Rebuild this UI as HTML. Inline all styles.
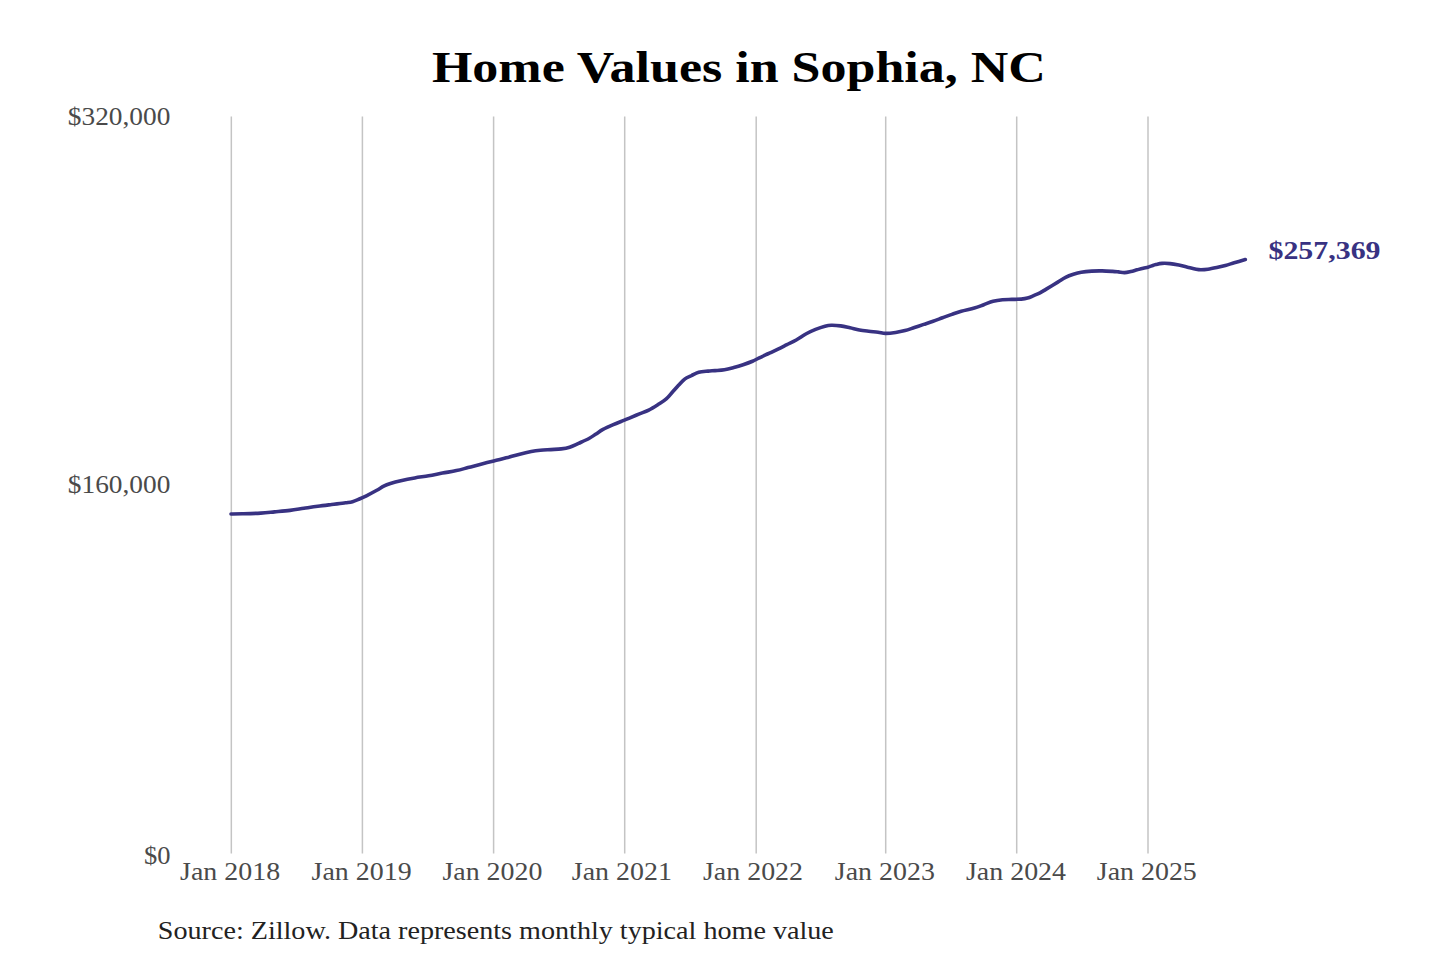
<!DOCTYPE html>
<html><head><meta charset="utf-8"><title>Home Values in Sophia, NC</title>
<style>
html,body{margin:0;padding:0;background:#fff;}
body{width:1440px;height:960px;overflow:hidden;}
svg{display:block;}
text{font-family:"Liberation Serif", serif;}
</style></head><body>
<svg width="1440" height="960" viewBox="0 0 1440 960">
<rect width="1440" height="960" fill="#fff"/>
<text x="738.9" y="81.7" text-anchor="middle" font-weight="bold" font-size="44" fill="#000" textLength="614" lengthAdjust="spacingAndGlyphs">Home Values in Sophia, NC</text>
<g stroke="#c4c4c4" stroke-width="1.5">
<line x1="231.33" y1="116.5" x2="231.33" y2="853.5" />
<line x1="362.40" y1="116.5" x2="362.40" y2="853.5" />
<line x1="493.60" y1="116.5" x2="493.60" y2="853.5" />
<line x1="624.70" y1="116.5" x2="624.70" y2="853.5" />
<line x1="756.20" y1="116.5" x2="756.20" y2="853.5" />
<line x1="885.70" y1="116.5" x2="885.70" y2="853.5" />
<line x1="1016.70" y1="116.5" x2="1016.70" y2="853.5" />
<line x1="1148.00" y1="116.5" x2="1148.00" y2="853.5" />
</g>
<g font-size="26" fill="#4a4a4a" text-anchor="end">
<text x="170.3" y="124.6" textLength="102.5" lengthAdjust="spacingAndGlyphs">$320,000</text>
<text x="170.3" y="492.7" textLength="102.5" lengthAdjust="spacingAndGlyphs">$160,000</text>
<text x="170.5" y="864" textLength="26.5" lengthAdjust="spacingAndGlyphs">$0</text>
</g>
<g font-size="26" fill="#4a4a4a" text-anchor="middle">
<text x="230.13" y="879.6" textLength="100" lengthAdjust="spacingAndGlyphs">Jan 2018</text>
<text x="361.60" y="879.6" textLength="100" lengthAdjust="spacingAndGlyphs">Jan 2019</text>
<text x="492.40" y="879.6" textLength="100" lengthAdjust="spacingAndGlyphs">Jan 2020</text>
<text x="621.85" y="879.6" textLength="100" lengthAdjust="spacingAndGlyphs">Jan 2021</text>
<text x="753.00" y="879.6" textLength="100" lengthAdjust="spacingAndGlyphs">Jan 2022</text>
<text x="884.85" y="879.6" textLength="100" lengthAdjust="spacingAndGlyphs">Jan 2023</text>
<text x="1016.00" y="879.6" textLength="100" lengthAdjust="spacingAndGlyphs">Jan 2024</text>
<text x="1146.80" y="879.6" textLength="100" lengthAdjust="spacingAndGlyphs">Jan 2025</text>
</g>
<path d="M231.00,514.00 C232.88,513.97 237.35,513.95 242.30,513.80 C247.25,513.65 255.33,513.42 260.70,513.10 C266.07,512.78 269.62,512.35 274.50,511.90 C279.38,511.45 285.10,511.00 290.00,510.40 C294.90,509.80 299.27,508.99 303.90,508.30 C308.53,507.61 313.17,506.88 317.80,506.25 C322.43,505.62 327.07,505.07 331.70,504.50 C336.33,503.93 342.13,503.27 345.60,502.80 C349.07,502.33 350.20,502.33 352.50,501.70 C354.80,501.07 357.08,499.98 359.40,499.00 C361.72,498.02 363.50,497.25 366.40,495.80 C369.30,494.35 373.91,491.92 376.80,490.30 C379.69,488.68 381.48,487.23 383.75,486.10 C386.02,484.97 387.56,484.40 390.40,483.50 C393.24,482.60 396.75,481.63 400.80,480.70 C404.85,479.77 410.07,478.72 414.70,477.90 C419.33,477.08 423.97,476.60 428.60,475.80 C433.23,475.00 437.87,473.97 442.50,473.10 C447.13,472.23 452.15,471.52 456.40,470.60 C460.65,469.68 464.07,468.62 468.00,467.60 C471.93,466.58 475.71,465.62 480.00,464.50 C484.29,463.38 489.38,462.02 493.75,460.90 C498.12,459.78 502.08,458.88 506.25,457.80 C510.42,456.72 514.58,455.43 518.75,454.40 C522.92,453.37 527.64,452.28 531.25,451.60 C534.86,450.92 537.14,450.63 540.40,450.30 C543.66,449.97 547.32,449.83 550.80,449.60 C554.27,449.37 558.12,449.30 561.25,448.90 C564.38,448.50 566.71,448.13 569.60,447.20 C572.49,446.27 575.37,444.75 578.60,443.30 C581.83,441.85 586.10,440.05 589.00,438.50 C591.90,436.95 593.67,435.52 596.00,434.00 C598.33,432.48 600.12,430.97 603.00,429.40 C605.88,427.83 609.84,426.10 613.30,424.60 C616.76,423.10 620.97,421.53 623.75,420.40 C626.53,419.27 627.39,418.88 630.00,417.80 C632.61,416.72 636.27,415.18 639.40,413.90 C642.52,412.62 645.63,411.67 648.75,410.10 C651.87,408.53 655.18,406.37 658.10,404.50 C661.02,402.63 663.85,400.98 666.25,398.90 C668.65,396.82 670.42,394.30 672.50,392.00 C674.58,389.70 676.67,387.28 678.75,385.10 C680.83,382.92 682.92,380.46 685.00,378.90 C687.08,377.34 688.96,376.85 691.25,375.75 C693.54,374.65 695.94,373.07 698.75,372.30 C701.56,371.53 705.39,371.38 708.10,371.10 C710.81,370.82 712.28,370.83 715.00,370.60 C717.72,370.37 721.27,370.22 724.40,369.70 C727.52,369.18 730.63,368.33 733.75,367.50 C736.87,366.67 739.98,365.74 743.10,364.70 C746.23,363.66 749.89,362.35 752.50,361.25 C755.11,360.15 756.15,359.35 758.75,358.10 C761.35,356.85 764.98,355.20 768.10,353.75 C771.23,352.30 774.37,350.91 777.50,349.40 C780.63,347.89 783.77,346.27 786.90,344.70 C790.02,343.13 793.02,341.82 796.25,340.00 C799.48,338.18 803.02,335.52 806.25,333.75 C809.48,331.98 812.48,330.65 815.60,329.40 C818.73,328.15 822.39,326.93 825.00,326.25 C827.61,325.57 828.65,325.36 831.25,325.30 C833.85,325.24 837.48,325.48 840.60,325.90 C843.73,326.32 846.87,327.12 850.00,327.80 C853.13,328.48 856.27,329.43 859.40,330.00 C862.52,330.57 865.63,330.88 868.75,331.25 C871.87,331.62 875.29,331.84 878.10,332.20 C880.91,332.56 882.68,333.35 885.60,333.40 C888.52,333.45 892.37,332.97 895.60,332.50 C898.83,332.03 901.87,331.43 905.00,330.60 C908.13,329.77 911.27,328.53 914.40,327.50 C917.52,326.47 920.63,325.44 923.75,324.40 C926.87,323.36 929.98,322.35 933.10,321.25 C936.23,320.15 939.37,318.94 942.50,317.80 C945.63,316.66 948.77,315.49 951.90,314.40 C955.02,313.31 957.50,312.30 961.25,311.25 C965.00,310.20 970.65,309.19 974.40,308.10 C978.15,307.01 980.63,305.84 983.75,304.70 C986.87,303.56 989.98,302.08 993.10,301.25 C996.23,300.42 999.37,300.01 1002.50,299.70 C1005.63,299.39 1008.77,299.50 1011.90,299.40 C1015.02,299.30 1018.65,299.32 1021.25,299.10 C1023.85,298.88 1025.42,298.68 1027.50,298.10 C1029.58,297.52 1031.67,296.48 1033.75,295.60 C1035.83,294.72 1037.92,293.88 1040.00,292.80 C1042.08,291.72 1043.28,290.88 1046.25,289.10 C1049.22,287.32 1054.58,284.05 1057.80,282.10 C1061.02,280.15 1063.00,278.70 1065.60,277.40 C1068.20,276.10 1070.79,275.17 1073.40,274.30 C1076.01,273.43 1078.20,272.73 1081.25,272.20 C1084.30,271.67 1088.23,271.32 1091.70,271.10 C1095.17,270.88 1098.63,270.85 1102.10,270.90 C1105.57,270.95 1109.80,271.23 1112.50,271.40 C1115.20,271.57 1116.28,271.70 1118.30,271.90 C1120.32,272.10 1122.52,272.67 1124.60,272.60 C1126.68,272.53 1128.72,271.97 1130.80,271.50 C1132.88,271.03 1135.02,270.35 1137.10,269.80 C1139.18,269.25 1141.50,268.63 1143.30,268.20 C1145.10,267.77 1146.50,267.58 1147.90,267.20 C1149.30,266.82 1150.38,266.33 1151.70,265.90 C1153.02,265.47 1154.07,265.02 1155.80,264.60 C1157.53,264.18 1159.73,263.57 1162.10,263.40 C1164.47,263.23 1167.22,263.32 1170.00,263.60 C1172.78,263.88 1175.83,264.50 1178.75,265.10 C1181.67,265.70 1184.58,266.52 1187.50,267.20 C1190.42,267.88 1194.02,268.78 1196.25,269.20 C1198.48,269.62 1198.96,269.70 1200.90,269.70 C1202.84,269.70 1205.27,269.57 1207.90,269.20 C1210.53,268.83 1213.78,268.13 1216.70,267.50 C1219.62,266.87 1222.48,266.18 1225.40,265.40 C1228.32,264.62 1230.88,263.77 1234.20,262.80 C1237.52,261.83 1243.45,260.13 1245.30,259.60" fill="none" stroke="#383282" stroke-width="3.6" stroke-linecap="round" stroke-linejoin="round"/>
<text x="1268.5" y="258.6" font-weight="bold" font-size="25" fill="#383282" textLength="112" lengthAdjust="spacingAndGlyphs">$257,369</text>
<text x="157.8" y="938.75" font-size="26" fill="#222" textLength="676" lengthAdjust="spacingAndGlyphs">Source: Zillow. Data represents monthly typical home value</text>
</svg>
</body></html>
